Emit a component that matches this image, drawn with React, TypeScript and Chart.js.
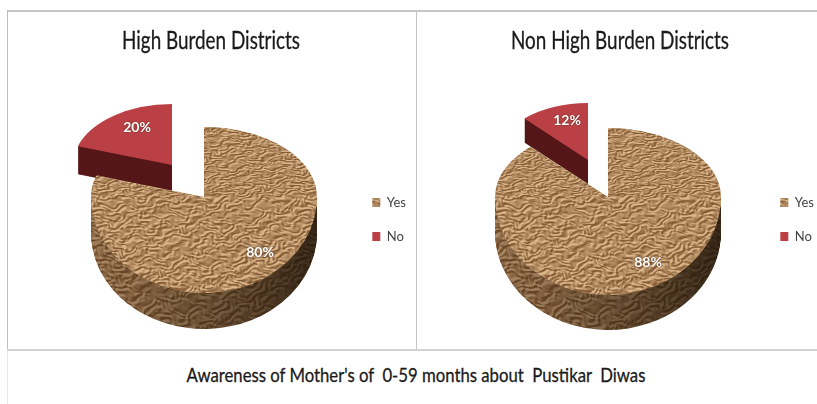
import React, { useEffect, useRef } from "react";
import { Chart, registerables } from "chart.js";

Chart.register(...registerables);

const categories = ["Yes", "No"];
const highBurdenValues = [80, 20];
const nonHighBurdenValues = [88, 12];
const titles = ["High Burden Districts", "Non High Burden Districts"];
const caption = "Awareness of Mother's of  0-59 months about  Pustikar  Diwas";

const FONT = "Lato, 'Liberation Sans', sans-serif";
const RED = "#bb4045";

function makeTexture(): CanvasPattern | string {
  const N = 240;
  const c = document.createElement("canvas");
  c.width = N;
  c.height = N;
  const g = c.getContext("2d");
  if (!g) return "#b48f62";
  const terms: [number, number, number, number][] = [
    [7, 23, 0.0, 1.0], [-10, 27, 1.3, 0.9], [13, 21, 2.1, 0.8], [-5, 31, 0.7, 0.7],
    [16, 30, 4.0, 0.6], [-17, 20, 5.2, 0.6], [8, 38, 3.3, 0.5], [-21, 34, 1.9, 0.45],
    [23, 17, 2.7, 0.4], [4, 14, 0.4, 0.5], [-3, 10, 3.9, 0.45],
  ];
  const h = (x: number, y: number) => {
    const X = (2 * Math.PI * x) / N;
    const Y = (2 * Math.PI * y) / N;
    const wx = X + 0.28 * Math.sin(5 * Y + 3 * X) + 0.16 * Math.sin(13 * Y - 7 * X + 1);
    const wy = Y + 0.12 * Math.sin(6 * X - 2 * Y) + 0.07 * Math.sin(11 * X + 9 * Y + 2);
    let s = 0;
    for (const [a, b, ph, amp] of terms) s += amp * Math.sin(a * wx + b * wy + ph);
    return s;
  };
  const img = g.createImageData(N, N);
  for (let y = 0; y < N; y++) {
    for (let x = 0; x < N; x++) {
      const l = Math.max(-1, Math.min(1, (h(x + 0.7, y + 1) - h(x - 0.7, y - 1)) / 2.4));
      const i = (y * N + x) * 4;
      img.data[i] = 176 + l * 44;
      img.data[i + 1] = 137 + l * 46;
      img.data[i + 2] = 96 + l * 44;
      img.data[i + 3] = 255;
    }
  }
  g.putImageData(img, 0, 0);
  return g.createPattern(c, "repeat") || "#b48f62";
}

type Panel = {
  left: number;
  tipX: number;
  tipY: number;
  rx: number;
  ryBack: number;
  ryFront: number;
  depth: number;
  sliceX: number;
  sliceY: number;
  sliceRx: number;
  sliceRy: number;
  sliceDepth: number;
  labels: [number, number][];
};

const panels: Panel[] = [
  { left: 8, tipX: 204, tipY: 197, rx: 113, ryBack: 70, ryFront: 96, depth: 36, sliceX: 172, sliceY: 165, sliceRx: 99, sliceRy: 61, sliceDepth: 28, labels: [[260, 252], [137, 127]] },
  { left: 418, tipX: 608, tipY: 197, rx: 113, ryBack: 69, ryFront: 98, depth: 35, sliceX: 588, sliceY: 160, sliceRx: 93, sliceRy: 57, sliceDepth: 24, labels: [[648, 262], [567, 120]] },
];

function pie3d(p: Panel, texture: CanvasPattern | string) {
  return {
    id: "pie3d",
    beforeDatasetsDraw(chart: any) {
      const { ctx, width, height } = chart;
      const [yes, no] = chart.getDatasetMeta(0).data;
      const canvasTop = 12;
      const ox = p.left;
      const artWidth = chart.legend.left;
      const place = (el: any, cx: number, cy: number, sx: number, sy: number) => {
        const R = el.outerRadius;
        ctx.translate(cx - ox, cy - canvasTop);
        ctx.scale(sx / R, sy / R);
        ctx.translate(-el.x, -el.y);
        el.draw(ctx);
      };
      const slice = (dy: number) => {
        ctx.save();
        place(no, p.sliceX, p.sliceY + dy, p.sliceRx, p.sliceRy);
        ctx.restore();
      };
      const half = (dy: number, front: boolean) => {
        const edge = p.tipY - canvasTop + dy;
        ctx.save();
        ctx.beginPath();
        if (front) ctx.rect(0, edge, width, height - edge);
        else ctx.rect(0, 0, width, edge);
        ctx.clip();
        place(yes, p.tipX, p.tipY + dy, p.rx, front ? p.ryFront : p.ryBack);
        ctx.restore();
      };

      ctx.save();
      // exploded slice: wall, then face
      for (let d = p.sliceDepth; d >= 1; d--) slice(d);
      ctx.globalCompositeOperation = "source-atop";
      ctx.fillStyle = "rgba(45,5,5,0.72)";
      ctx.fillRect(0, 0, artWidth, height);
      ctx.globalCompositeOperation = "source-over";
      slice(0);

      // main slice: wall, texture over the wall, shade, face
      for (let d = p.depth; d >= 1; d--) half(d, true);
      const shadeTop = p.tipY - canvasTop + 10;
      ctx.globalCompositeOperation = "source-atop";
      ctx.fillStyle = texture;
      ctx.fillRect(0, shadeTop, artWidth, height - shadeTop);
      const grad = ctx.createLinearGradient(p.tipX - ox - p.rx, 0, p.tipX - ox + p.rx, 0);
      grad.addColorStop(0, "rgba(60,35,15,0.3)");
      grad.addColorStop(0.5, "rgba(45,28,12,0.55)");
      grad.addColorStop(1, "rgba(25,15,5,0.82)");
      ctx.fillStyle = grad;
      ctx.fillRect(0, shadeTop, artWidth, height - shadeTop);
      ctx.globalCompositeOperation = "source-over";
      half(0, true);
      half(0, false);

      // value labels
      ctx.font = `bold 14px ${FONT}`;
      ctx.textAlign = "center";
      ctx.textBaseline = "middle";
      ctx.fillStyle = "#ffffff";
      ctx.shadowColor = "rgba(60,30,10,0.8)";
      ctx.shadowBlur = 2;
      const values = chart.data.datasets[0].data as number[];
      values.forEach((v: number, i: number) => {
        ctx.fillText(`${v}%`, p.labels[i][0] - ox, p.labels[i][1] - canvasTop);
      });
      ctx.restore();
      return false;
    },
  };
}

function PieCanvas({ panel, values, width }: { panel: Panel; values: number[]; width: number }) {
  const ref = useRef<HTMLCanvasElement>(null);
  useEffect(() => {
    if (!ref.current) return;
    const texture = makeTexture();
    const chart = new Chart(ref.current, {
      type: "pie",
      data: {
        labels: categories,
        datasets: [{ data: values, backgroundColor: [texture, RED] as any, borderWidth: 0 }],
      },
      options: {
        responsive: false,
        animation: false,
        events: [],
        layout: { padding: { top: 77, bottom: 0, right: 0 } },
        plugins: {
          tooltip: { enabled: false },
          legend: {
            position: "right",
            labels: {
              boxWidth: 8,
              boxHeight: 9,
              padding: 21,
              color: "#444",
              font: { family: FONT, size: 13 },
            },
          },
        },
      },
      plugins: [pie3d(panel, texture) as any],
    });
    return () => chart.destroy();
  }, []);
  return (
    <canvas
      ref={ref}
      width={width}
      height={338}
      style={{ position: "absolute", left: panel.left, top: 12, width, height: 338 }}
    />
  );
}

const line = (left: number, top: number, width: number, height: number, color = "#c6c6c6") => (
  <div style={{ position: "absolute", left, top, width, height, background: color }} />
);

const label = (text: string, centerX: number, top: number, size: number, squeeze: number) => (
  <div
    style={{
      position: "absolute",
      left: centerX - 400,
      width: 800,
      top,
      textAlign: "center",
      whiteSpace: "pre",
      fontFamily: FONT,
      fontSize: size,
      lineHeight: `${size + 4}px`,
      color: "#1a1a1a",
      WebkitTextStroke: "0.3px #1a1a1a",
      transform: `scaleX(${squeeze})`,
    }}
  >
    {text}
  </div>
);

export default function App() {
  return (
    <div
      style={{
        position: "fixed",
        left: 0,
        top: 0,
        width: 817,
        height: 404,
        overflow: "hidden",
        background: "#fff",
        filter: "blur(0.5px)",
      }}
    >
      {line(7, 10, 810, 2)}
      {line(7, 10, 1, 340, "#bdbdbd")}
      {line(7, 350, 1, 54, "#e6e6e6")}
      {line(416, 11, 1, 339, "#c4c4c4")}
      {line(7, 349, 810, 2, "#d2d2d2")}
      <PieCanvas panel={panels[0]} values={highBurdenValues} width={408} />
      <PieCanvas panel={panels[1]} values={nonHighBurdenValues} width={406} />
      {label(titles[0], 211, 25, 25, 0.755)}
      {label(titles[1], 620, 25, 25, 0.755)}
      {label(caption, 416, 362, 20, 0.836)}
    </div>
  );
}
